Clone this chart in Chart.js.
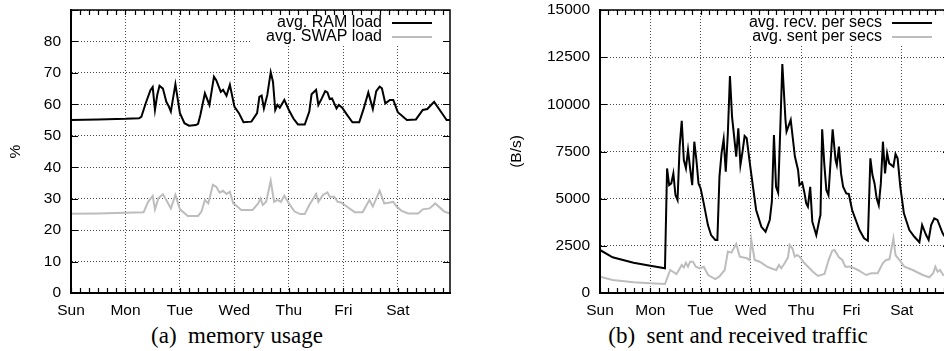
<!DOCTYPE html>
<html>
<head>
<meta charset="utf-8">
<script src="https://cdn.jsdelivr.net/npm/chart.js@4.4.1/dist/chart.umd.min.js"></script>
<style>
  html, body { margin: 0; padding: 0; background: #fff; width: 944px; height: 351px; overflow: hidden; }
  canvas { position: absolute; top: 0; }
  #memChart { left: 0; }
  #netChart { left: 470px; }
  .caption { position: absolute; top: 323px; font-family: "Liberation Serif", "Times New Roman", serif; font-size: 23px; line-height: 26px; white-space: pre; text-align: center; color: #000; }
</style>
</head>
<body>
<canvas id="memChart" width="470" height="320"></canvas>
<canvas id="netChart" width="490" height="320"></canvas>
<div class="caption" style="left:0;width:474px">(a)  memory usage</div>
<div class="caption" style="left:532px;width:412px">(b)  sent and received traffic</div>
<script>
// x values are hours since Sunday 00:00
const dayLabels = ['Sun', 'Mon', 'Tue', 'Wed', 'Thu', 'Fri', 'Sat'];
const dayTicks = [0, 24, 48, 72, 96, 120, 144];
const memTicks = [0, 10, 20, 30, 40, 50, 60, 70, 80, 90];
const netTicks = [0, 2500, 5000, 7500, 10000, 12500, 15000];

const ramHours = [0, 12, 24, 30, 31, 33, 35, 36, 37, 38, 39, 40.5, 42, 43, 44, 46, 48, 50, 52, 55, 56, 57, 59, 61, 63, 64, 66, 67, 68.5, 70,
  72, 74, 76, 79.5, 82, 83, 84, 85, 86.5, 88, 89, 90, 91, 92, 94, 96, 98, 100, 103, 105, 106, 108, 109, 110.5, 112, 113, 114, 115, 117, 118,
  119.5, 121.5, 124, 127, 129, 131, 133, 134.5, 136, 137, 138.5, 140.5, 142, 144, 148, 152, 155, 157, 160, 164, 165.5, 167];
const ramLoad = [55.0, 55.2, 55.4, 55.6, 56, 60.5, 64.5, 65.5, 58.2, 63, 65.9, 65, 60.8, 59.5, 57.7, 66.4, 57.2, 54, 53.2, 53.4, 53.8, 56.6, 63.5, 59.8, 68.8, 67.7, 64, 64.6, 62.7, 66.2,
  59.3, 57.2, 54.3, 54.5, 57.2, 62.4, 62.8, 58.7, 63, 70.2, 67.2, 58.2, 59.8, 58.9, 61.4, 58.2, 55.5, 53.6, 53.6, 57.7, 63.2, 64.6, 59.8, 61.9, 64.2, 63.8, 61.7, 61.9, 58.7, 59.8,
  58.9, 56.8, 54.3, 54.3, 58.7, 63.8, 58.5, 64.2, 65.6, 65.1, 60.3, 61.4, 61.4, 57.5, 55, 55.2, 58.2, 58.5, 60.8, 56.6, 55, 55];

const swapHours = [0, 12, 24, 32, 34, 36, 37, 38.5, 40.5, 42, 44, 46, 48, 51.5, 56, 57.5, 59, 60.5, 62.5, 64, 65.5, 67, 68.5, 70, 71.5, 72.5,
  75, 80, 82.5, 83.5, 84.5, 86, 88, 89.5, 91, 92.5, 94, 96, 98.5, 101, 103, 105, 108, 109, 111, 113, 114, 116, 117.5, 119, 121.5, 125,
  128.5, 131.5, 133, 136, 138, 140, 142, 143.5, 145.5, 148.5, 153, 155, 158, 160.5, 164.5, 167];
const swapLoad = [25.2, 25.3, 25.5, 25.7, 29, 30.9, 26.6, 30.1, 31.4, 29.6, 26.9, 31.2, 26.6, 24.5, 24.5, 25.9, 29.6, 28.5, 34.4, 33.8, 31.9, 32.5, 31.5, 32.2, 28.5, 28,
  26.4, 26.4, 28.5, 30.1, 28, 29, 35.7, 29, 29.6, 29, 30.9, 28.5, 25.9, 25.1, 25.1, 28, 31.5, 29, 31.2, 32, 30.6, 30.6, 29, 28.8, 27.5, 25.7,
  25.7, 29.6, 27.5, 32.5, 28.5, 28.7, 29, 27.5, 26.2, 25.3, 25.3, 26.6, 26.9, 28.5, 25.9, 25.3];

const recvHours = [0, 6, 16, 24, 31, 32, 33, 34, 35, 36, 37, 38, 39, 40, 41, 42, 43, 44, 45, 46, 47, 48, 49.5, 51.5, 53, 55, 56, 57, 58, 59,
  60, 61, 62, 63, 64, 65, 66, 67, 68, 69, 70, 71.5, 73, 74.5, 77, 79, 81, 82, 83, 84, 85, 86, 87, 88.5, 89, 91, 93, 94.5, 95.2, 96.5,
  97.6, 98.4, 99.2, 100.3, 101.3, 103.2, 104.8, 105.2, 106, 107, 108, 109, 111, 112.4, 113, 114, 115, 116, 117.5, 118.7, 120.3, 123.8, 126, 127.8,
  129, 130, 131, 132, 133, 134, 135, 136, 137, 138, 140, 141, 142, 143.3, 145, 147.6, 150, 152.4, 153.7, 155.6, 156.8, 158, 159.5, 161, 163.5, 165, 167];
const recvRate = [2280, 1890, 1600, 1450, 1310, 6600, 5720, 5810, 6340, 5190, 4930, 7760, 9130, 7050, 6610, 7580, 6610, 5720, 8020, 7050, 5810, 5550, 4750, 3600, 3070, 2810, 2810, 6170, 7410, 8150,
  6430, 8470, 11500, 9350, 8290, 7230, 8730, 6780, 7490, 8320, 8200, 6870, 5630, 4400, 3510, 3250, 3870, 4840, 8370, 5630, 5320, 8640, 12140, 9170, 8550, 9170, 7230, 6520, 5720, 5850,
  5280, 4750, 4580, 5630, 3780, 3070, 3960, 4130, 8680, 6870, 5460, 5190, 8680, 7050, 6780, 7760, 6340, 5630, 5280, 5250, 4400, 3340, 2900, 2770,
  7140, 6250, 5810, 5020, 4660, 5810, 8020, 6340, 7410, 6870, 6700, 7370, 7140, 5630, 4220, 3340, 2980, 2690, 3600, 3070, 2810, 3600, 3960, 3870, 3160, 2900, 2750];

const sentHours = [0, 6, 16, 24, 31, 33.5, 36.5, 39, 40, 41, 42, 43, 44.4, 45.7, 47.6, 49.5, 51.6, 55, 57, 59.5, 61, 62.7, 65, 66.7, 70.1, 71.4,
  72.2, 73.8, 76.2, 79.7, 82.5, 84.1, 85.4, 86.5, 88.1, 89.7, 90.5, 91.8, 92.9, 94, 95.2, 97.6, 101.6, 104, 107.1, 109.2, 110.8, 111.9, 114, 115.6,
  117.1, 119.8, 123, 127, 129.4, 132.5, 134.9, 136.5, 138.1, 139.4, 140, 141, 142.9, 145.2, 149.2, 154, 157.1, 159, 160, 161.1, 162.2, 163.8, 167];
const sentRate = [865, 690, 566, 513, 477, 1220, 1000, 1484, 1360, 1606, 1394, 1659, 1659, 1394, 1309, 1394, 954, 740, 880, 1219, 2200, 2140, 2600, 1924, 1839, 1749,
  2809, 1749, 1659, 1394, 1272, 1219, 1484, 1309, 1574, 1890, 2544, 2369, 1924, 2014, 1924, 1574, 1129, 901, 1007, 1786, 2242, 2279, 1890, 1749,
  1394, 1394, 1219, 954, 1044, 1044, 1574, 1749, 1786, 2544, 2899, 2014, 1749, 1394, 1219, 954, 832, 1044, 1394, 1129, 1219, 954, 900];

function points(xs, ys) {
  return xs.map((h, i) => ({ x: h, y: ys[i] }));
}

// gnuplot-like frame: top/right border, inner ticks, minor ticks every 4h, boxed key
const gnuFrame = {
  id: 'gnuFrame',
  beforeDatasetsDraw(chart, args, opts) {
    const { ctx, chartArea: a } = chart;
    ctx.save();
    ctx.font = '16px "Liberation Sans", Arial, sans-serif';
    const textRight = a.right - opts.textGap;
    let widest = 0;
    chart.data.datasets.forEach(ds => { widest = Math.max(widest, ctx.measureText(ds.label).width); });
    const boxLeft = textRight - widest - 16;
    ctx.fillStyle = '#fff';
    ctx.fillRect(boxLeft, a.top + 1, a.right - 8 - boxLeft, 35);
    ctx.textAlign = 'right';
    ctx.textBaseline = 'middle';
    chart.data.datasets.forEach((ds, i) => {
      const y = a.top + 13 + i * 14;
      ctx.fillStyle = '#000';
      ctx.fillText(ds.label, textRight, y);
      ctx.strokeStyle = ds.borderColor;
      ctx.lineWidth = ds.borderWidth;
      ctx.beginPath();
      ctx.moveTo(a.right - 58, y);
      ctx.lineTo(a.right - 18, y);
      ctx.stroke();
    });
    ctx.restore();
  },
  afterDraw(chart) {
    const { ctx, chartArea: a } = chart;
    const x = chart.scales.x;
    const y = chart.scales.y;
    ctx.save();
    ctx.setLineDash([]);
    ctx.globalAlpha = 1;
    ctx.strokeStyle = '#000';
    ctx.lineWidth = 1.2;
    ctx.beginPath();
    for (let h = 0; h <= 167; h += 4) {
      const px = Math.round(x.getPixelForValue(h)) + 0.5;
      ctx.moveTo(px, a.bottom);
      ctx.lineTo(px, a.bottom - 5);
      ctx.moveTo(px, a.top);
      ctx.lineTo(px, a.top + 5);
    }
    for (const t of y.ticks) {
      const py = Math.round(y.getPixelForValue(t.value)) + 0.5;
      ctx.moveTo(a.left, py);
      ctx.lineTo(a.left + 7, py);
      ctx.moveTo(a.right, py);
      ctx.lineTo(a.right - 7, py);
    }
    ctx.stroke();
    ctx.lineWidth = 1.5;
    ctx.beginPath();
    ctx.moveTo(a.left, a.top);
    ctx.lineTo(a.right, a.top);
    ctx.lineTo(a.right, a.bottom);
    ctx.stroke();
    ctx.restore();
  }
};

const tickFont = { family: '"Liberation Sans", Arial, sans-serif', size: 15.5 };

function noPadding(s) {
  s.paddingTop = 0;
  s.paddingBottom = 0;
  s.paddingLeft = 0;
  s.paddingRight = 0;
}

function makeChart(id, cfg) {
  return new Chart(document.getElementById(id), {
    type: 'line',
    data: {
      datasets: [
        { label: cfg.labels[0], data: cfg.series[0], borderColor: '#000', borderWidth: 2, pointRadius: 0, tension: 0 },
        { label: cfg.labels[1], data: cfg.series[1], borderColor: '#bdbdbd', borderWidth: 2, pointRadius: 0, tension: 0 }
      ]
    },
    options: {
      responsive: false,
      animation: false,
      layout: { padding: { top: 10, right: cfg.padRight, left: 0, bottom: 0 } },
      plugins: {
        legend: { display: false },
        tooltip: { enabled: false },
        gnuFrame: { textGap: 68 }
      },
      scales: {
        x: {
          type: 'linear',
          min: 0,
          max: 167,
          afterBuildTicks: s => { s.ticks = dayTicks.map(v => ({ value: v })); },
          afterFit: s => { s.height = 27; noPadding(s); },
          ticks: { color: '#000', font: tickFont, padding: 8, maxRotation: 0,
            callback: v => dayLabels[dayTicks.indexOf(v)] },
          grid: { color: '#4a4a4a', lineWidth: 1, drawTicks: false },
          border: { display: true, color: '#000', width: 2, dash: [1, 2], z: 1 }
        },
        y: {
          min: 0,
          max: cfg.yMax,
          afterBuildTicks: s => { s.ticks = cfg.yTicks.map(v => ({ value: v })); },
          afterFit: s => { s.width = cfg.axisWidth; noPadding(s); },
          ticks: { color: '#000', font: tickFont, padding: 10, callback: cfg.yFormat },
          grid: { color: '#4a4a4a', lineWidth: 1, drawTicks: false },
          border: { display: true, color: '#000', width: 2, dash: [1, 2], z: 1 },
          title: { display: true, text: cfg.yTitle, color: '#000', font: tickFont, padding: { top: cfg.titlePad, bottom: 0 } }
        }
      }
    },
    plugins: [gnuFrame]
  });
}

makeChart('memChart', {
  labels: ['avg. RAM load', 'avg. SWAP load'],
  series: [points(ramHours, ramLoad), points(swapHours, swapLoad)],
  yMax: 90,
  yTicks: memTicks,
  yFormat: v => (v === 90 ? '' : v),
  yTitle: '%',
  axisWidth: 71,
  titlePad: 6,
  padRight: 20
});

// the traffic plot runs past the right edge of the page
makeChart('netChart', {
  labels: ['avg. recv. per secs', 'avg. sent per secs'],
  series: [points(recvHours, recvRate), points(sentHours, sentRate)],
  yMax: 15000,
  yTicks: netTicks,
  yFormat: v => v,
  yTitle: '(B/s)',
  axisWidth: 130,
  titlePad: 37,
  padRight: 10
});
</script>
</body>
</html>
